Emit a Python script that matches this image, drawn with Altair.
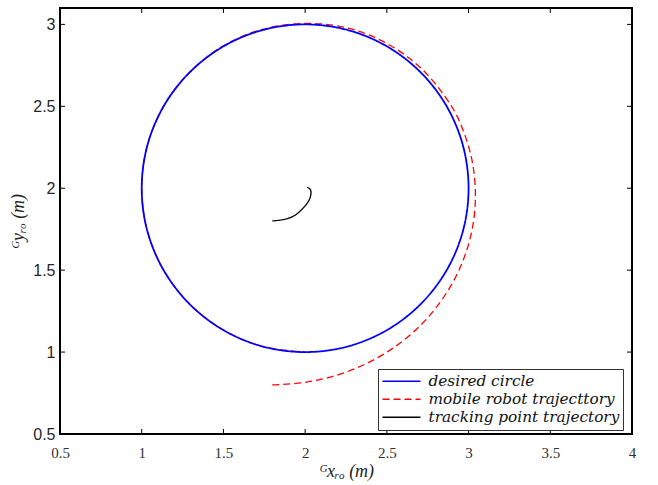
import altair as alt
import pandas as pd

# Desired circle: centre (2, 2), radius 1, points every 15 degrees (closed curve)
circle_x = [3.0, 2.966, 2.866, 2.707, 2.5, 2.259, 2.0, 1.741, 1.5, 1.293, 1.134, 1.034,
            1.0, 1.034, 1.134, 1.293, 1.5, 1.741, 2.0, 2.259, 2.5, 2.707, 2.866, 2.966]
circle_y = [2.0, 2.259, 2.5, 2.707, 2.866, 2.966, 3.0, 2.966, 2.866, 2.707, 2.5, 2.259,
            2.0, 1.741, 1.5, 1.293, 1.134, 1.034, 1.0, 1.034, 1.134, 1.293, 1.5, 1.741]

# Mobile robot trajectory: starts at (1.8, 0.8), spirals onto the circle near the top
robot_x = [1.799, 2.0, 2.201, 2.387, 2.556, 2.704, 2.827, 2.925, 2.994, 3.033, 3.041,
           3.019, 2.967, 2.888, 2.721, 2.508, 2.262, 2.0, 1.739, 1.498,
           1.293, 1.134, 1.034, 1.0, 1.034, 1.134, 1.293, 1.5, 1.741, 2.0]
robot_y = [0.8, 0.815, 0.861, 0.936, 1.037, 1.161, 1.306, 1.466, 1.638, 1.818, 2.0,
           2.18, 2.352, 2.512, 2.721, 2.879, 2.977, 3.006, 2.97, 2.868,
           2.707, 2.5, 2.259, 2.0, 1.741, 1.5, 1.293, 1.134, 1.034, 1.0]

# Tracking point trajectory: short hooked curve from (1.8, 1.8) to the circle centre
track_x = [1.8, 1.877, 1.938, 1.987, 2.024, 2.036, 2.03, 2.012]
track_y = [1.8, 1.811, 1.835, 1.878, 1.927, 1.97, 1.994, 2.006]

series_names = ["desired circle", "mobile robot trajecttory", "tracking point trajectory"]
series_colors = ["#0000ff", "#ff0000", "#000000"]
series_dashes = [[1, 0], [7, 4], [1, 0]]

x_ticks = [0.5, 1, 1.5, 2, 2.5, 3, 3.5, 4]
y_ticks = [0.5, 1, 1.5, 2, 2.5, 3]

W, H = 572, 426


def frame(name, xs, ys):
    return pd.DataFrame({"x": xs, "y": ys, "series": name, "i": range(len(xs))})


df = pd.concat([
    frame(series_names[0], circle_x, circle_y),
    frame(series_names[1], robot_x, robot_y),
    frame(series_names[2], track_x, track_y),
])

xscale = alt.Scale(domain=[0.5, 4], nice=False, zero=False)
yscale = alt.Scale(domain=[0.5, 3.1], nice=False, zero=False)

x_axis = alt.Axis(values=x_ticks, format="~g", ticks=False, domain=False, grid=False,
                  labelFont="Liberation Serif", labelFontSize=15, labelColor="#333333",
                  labelPadding=11, labelFlush=False, labelOverlap=False,
                  title="ᴳxᵣₒ (m)", titleFont="Liberation Serif", titleFontStyle="italic",
                  titleFontWeight="normal", titleFontSize=18, titleColor="#222222",
                  titlePadding=2)
y_axis = alt.Axis(values=y_ticks, format="~g", ticks=False, domain=False, grid=False,
                  labelFont="Liberation Sans", labelFontSize=16, labelColor="#262626",
                  labelPadding=5, labelFlush=False, labelOverlap=False,
                  title="ᴳyᵣₒ (m)", titleFont="Liberation Serif", titleFontStyle="italic",
                  titleFontWeight="normal", titleFontSize=18, titleColor="#222222",
                  titlePadding=5)

color_enc = alt.Color("series:N", title=None,
                      scale=alt.Scale(domain=series_names, range=series_colors))
dash_enc = alt.StrokeDash("series:N", title=None,
                          scale=alt.Scale(domain=series_names, range=series_dashes))

base = alt.Chart(df).encode(
    x=alt.X("x:Q", scale=xscale, axis=x_axis),
    y=alt.Y("y:Q", scale=yscale, axis=y_axis),
    order=alt.Order("i:Q"),
    color=color_enc,
    strokeDash=dash_enc,
)

robot = base.transform_filter(alt.datum.series == series_names[1]).mark_line(
    strokeWidth=1.3, interpolate="cardinal")
circle = base.transform_filter(alt.datum.series == series_names[0]).mark_line(
    strokeWidth=1.8, interpolate="cardinal-closed")
track = base.transform_filter(alt.datum.series == series_names[2]).mark_line(
    strokeWidth=1.3, interpolate="cardinal")

# Inward tick marks on all four sides of the frame
xt = pd.DataFrame({"x": x_ticks})
yt = pd.DataFrame({"y": y_ticks})
tick_x = alt.X("x:Q", scale=xscale, axis=x_axis)
tick_y = alt.Y("y:Q", scale=yscale, axis=y_axis)
ticks_bottom = alt.Chart(xt).mark_rule(color="black", strokeWidth=1).encode(
    x=tick_x, y=alt.value(H), y2=alt.value(H - 5))
ticks_top = alt.Chart(xt).mark_rule(color="black", strokeWidth=1).encode(
    x=tick_x, y=alt.value(0), y2=alt.value(5))
ticks_left = alt.Chart(yt).mark_rule(color="black", strokeWidth=1).encode(
    y=tick_y, x=alt.value(0), x2=alt.value(5))
ticks_right = alt.Chart(yt).mark_rule(color="black", strokeWidth=1).encode(
    y=tick_y, x=alt.value(W), x2=alt.value(W - 5))

chart = alt.layer(
    robot, circle, track, ticks_bottom, ticks_top, ticks_left, ticks_right
).properties(
    width=W, height=H,
    padding={"left": 60, "top": 8, "right": 26, "bottom": 51},
    autosize=alt.AutoSizeParams(type="none"),
    background="white",
).configure_view(
    stroke="black", strokeWidth=2, fill="white"
).configure_legend(
    orient="none", legendX=318, legendY=361,
    symbolType="stroke", symbolSize=1444, symbolStrokeWidth=1.3, clipHeight=17.5,
    labelFont="DejaVu Serif", labelFontStyle="italic", labelFontSize=15.3,
    labelColor="#111111", labelOffset=7, labelLimit=400,
    rowPadding=0, padding=3.5, strokeColor="#333333", fillColor="white",
    cornerRadius=0,
)

chart.save("out.html", embed_options={"renderer": "svg", "actions": False})
